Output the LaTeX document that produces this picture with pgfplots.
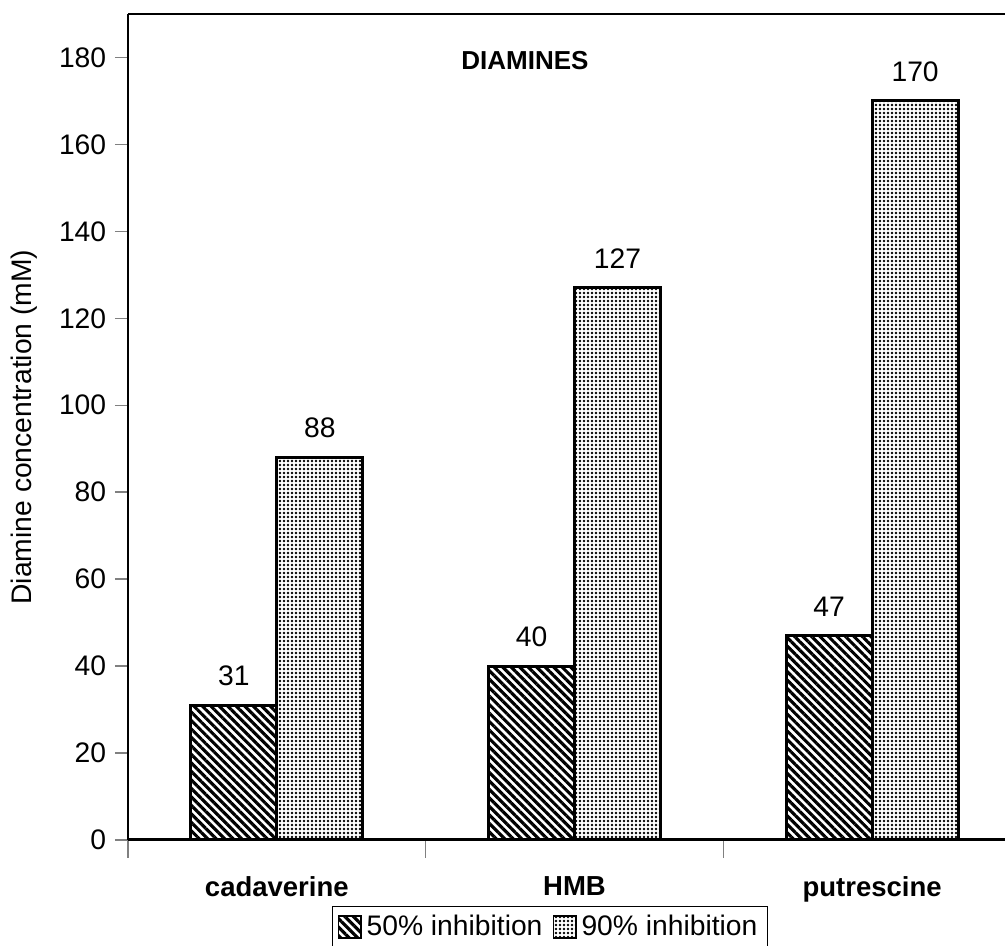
\documentclass[border=0pt]{standalone}
\usepackage{fontspec}
\setmainfont{Liberation Sans}
\usepackage{pgfplots}
\pgfplotsset{compat=1.18}
\usetikzlibrary{patterns.meta}
\pgfplotsset{/pgf/number format/assume math mode=true}
\begin{document}
\begin{tikzpicture}[font=\fontsize{11.3pt}{13.5pt}\selectfont]
\useasboundingbox (0,0) rectangle (402pt,378pt);
\begin{axis}[
  at={(51.2pt,42pt)}, anchor=south west,
  scale only axis, width=350.8pt, height=330.4pt,
  xmin=-0.5, xmax=2.4463, ymin=0, ymax=190,
  axis x line*=box, axis y line*=left,
  axis line style={line width=0.8pt},
  tick align=outside,
  xtick pos=bottom, ytick pos=left,
  xtick={0,1,2},
  xticklabels={cadaverine,HMB,putrescine},
  xticklabel style={font=\fontsize{11pt}{13pt}\selectfont\bfseries, yshift=-6pt},
  major x tick style={draw=none},
  minor xtick={-0.5,0.5,1.5,2.5},
  minor tick length=7pt,
  minor x tick style={line width=0.5pt},
  ytick={0,20,...,180},
  major tick length=5.2pt,
  y tick style={line width=0.6pt},
  ylabel={Diamine concentration (mM)},
  every axis y label/.style={at={(axis description cs:-0.118,0.5)}, rotate=90, anchor=center},
  ybar=0pt, bar width=0.2886,
  nodes near coords,
  every node near coord/.append style={yshift=3.8pt},
  legend columns=2,
  legend style={at={(axis description cs:0.2326,-0.080)}, anchor=north west,
    draw=black, line width=0.5pt, inner xsep=2pt, inner ysep=1.5pt,
    /tikz/every even column/.append style={column sep=2pt}},
  legend image code/.code={\draw[#1, line width=0.6pt] (0pt,-4.2pt) rectangle (9pt,4.6pt);},
]
\addplot[draw=black, line width=1.2pt, bar shift=-0.1443,
  pattern={Lines[angle=-45, distance=2.4pt, line width=1.25pt]}]
  coordinates {(0,31) (1,40) (2,47)};
\addplot[draw=black, line width=1.2pt, bar shift=0.1443,
  pattern={Dots[distance=1.6pt, radius=0.58pt]}]
  coordinates {(0,88) (1,127) (2,170)};
\legend{50\% inhibition, 90\% inhibition}
\draw[line width=1.2pt] (rel axis cs:0,0) -- (rel axis cs:1,0);
\node[font=\fontsize{10.4pt}{12.5pt}\selectfont\bfseries] at (axis description cs:0.4527,0.944) {DIAMINES};
\end{axis}
\end{tikzpicture}
\end{document}
